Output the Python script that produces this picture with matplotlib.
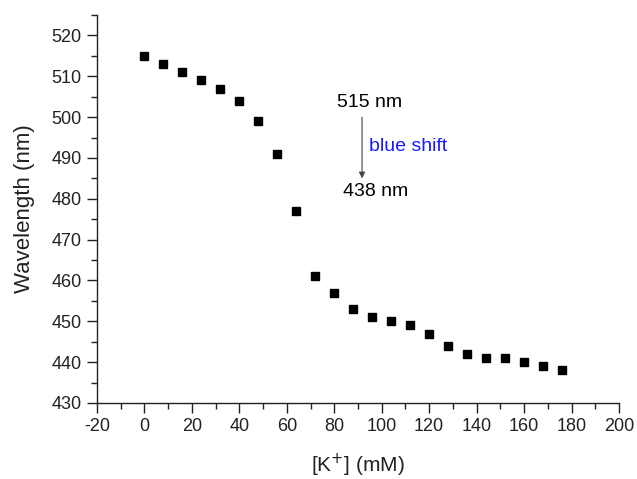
import matplotlib.pyplot as plt
from matplotlib.ticker import MultipleLocator

plt.rcParams['font.family'] = ['Liberation Sans', 'DejaVu Sans']
plt.rcParams['axes.unicode_minus'] = False

# [K+] concentration (mM) and emission wavelength (nm)
conc = [0, 8, 16, 24, 32, 40, 48, 56, 64, 72, 80, 88, 96, 104, 112, 120,
        128, 136, 144, 152, 160, 168, 176]
wavelength = [515, 513, 511, 509, 507, 504, 499, 491, 477, 461, 457, 453,
              451, 450, 449, 447, 444, 442, 441, 441, 440, 439, 438]

fig = plt.figure(figsize=(6.37, 4.79), dpi=100)
ax = fig.add_axes([0.1523, 0.1587, 0.8194, 0.81])

ax.plot(conc, wavelength, 's', color='black', markersize=6, linestyle='none')

ax.set_xlim(-20, 200)
ax.xaxis.set_major_locator(MultipleLocator(20))
ax.xaxis.set_minor_locator(MultipleLocator(10))
ax.yaxis.set_minor_locator(MultipleLocator(5))
ax.set_yticks(range(430, 521, 10))
ax.set_ylim(430, 525)

for side in ['top', 'right']:
    ax.spines[side].set_visible(False)
for side in ['left', 'bottom']:
    ax.spines[side].set_color('#222222')
    ax.spines[side].set_linewidth(1.0)

ax.tick_params(which='major', direction='out', length=7, width=1, labelsize=13,
               colors='#222222', pad=4)
ax.tick_params(which='minor', direction='out', length=4, width=1, colors='#222222')

ax.set_xlabel('[K$^{+}$] (mM)', fontsize=15, color='#222222', labelpad=12)
ax.set_ylabel('Wavelength (nm)', fontsize=16, color='#222222', labelpad=12)

# annotation
ax.text(81, 503.6, '515 nm', fontsize=14, va='center', ha='left', color='black')
ax.annotate('', xy=(91.7, 485.0), xytext=(91.7, 500.0),
            arrowprops=dict(arrowstyle='-|>', color='#444444', lw=0.8,
                            mutation_scale=9, shrinkA=0, shrinkB=0))
ax.text(94.6, 492.8, 'blue shift', fontsize=14, va='center', ha='left', color='#1a1aff')
ax.text(83.7, 481.7, '438 nm', fontsize=14, va='center', ha='left', color='black')

plt.savefig('out.png', dpi=100)
